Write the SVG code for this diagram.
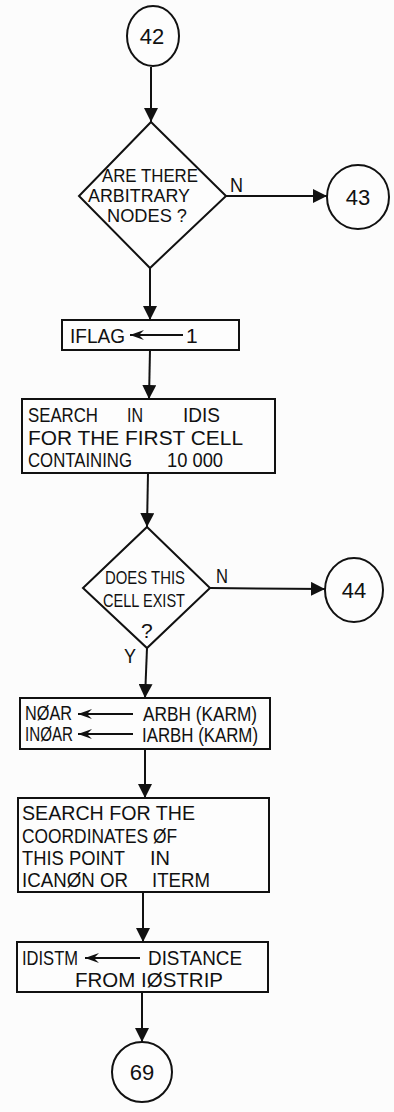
<svg xmlns="http://www.w3.org/2000/svg" width="394" height="1112" viewBox="0 0 394 1112">
<defs>
<style>
.s{fill:none;stroke:#111;stroke-width:2}
.n{fill:#fdfdfd;stroke:#111;stroke-width:2}
.t{font-family:"Liberation Sans",Arial,sans-serif;font-size:21px;fill:#111}
.d{font-family:"Liberation Sans",Arial,sans-serif;font-size:17.5px;fill:#111}
.c{font-family:"Liberation Sans",Arial,sans-serif;font-size:22px;fill:#111;text-anchor:middle}
.a{fill:none;stroke:#111;stroke-width:2}
</style>
<marker id="ah" viewBox="0 0 14 14" refX="14" refY="7" markerWidth="14" markerHeight="14" markerUnits="userSpaceOnUse" orient="auto">
<path d="M0,0 L14,7 L0,14 Z" fill="#111"/>
</marker>
<marker id="ia" viewBox="0 0 14 10" refX="14" refY="5" markerWidth="14" markerHeight="10" markerUnits="userSpaceOnUse" orient="auto">
<path d="M14,5 L0,0 L5,5 L0,10 Z" fill="#111"/>
</marker>
</defs>
<rect x="0" y="0" width="394" height="1112" fill="#fcfcfc"/>
<g id="connectors">
<line class="a" x1="151" y1="67" x2="151" y2="122" marker-end="url(#ah)"/>
<line class="a" x1="150" y1="268" x2="150" y2="320" marker-end="url(#ah)"/>
<line class="a" x1="150" y1="350" x2="149" y2="399" marker-end="url(#ah)"/>
<line class="a" x1="148" y1="473" x2="147" y2="527" marker-end="url(#ah)"/>
<line class="a" x1="226" y1="196" x2="327" y2="196" marker-end="url(#ah)"/>
<line class="a" x1="210" y1="588" x2="325" y2="589" marker-end="url(#ah)"/>
<line class="a" x1="147" y1="648" x2="145" y2="698" marker-end="url(#ah)"/>
<line class="a" x1="145" y1="749" x2="145" y2="798" marker-end="url(#ah)"/>
<line class="a" x1="143" y1="892" x2="143" y2="942" marker-end="url(#ah)"/>
<line class="a" x1="142" y1="992" x2="142" y2="1042" marker-end="url(#ah)"/>
<text class="t" x="230" y="192" textLength="13" lengthAdjust="spacingAndGlyphs">N</text>
<text class="t" x="216" y="583" textLength="12" lengthAdjust="spacingAndGlyphs">N</text>
<text class="t" x="124" y="663" textLength="12" lengthAdjust="spacingAndGlyphs">Y</text>
</g>
<g id="n42">
<ellipse class="n" cx="153" cy="36" rx="26" ry="30"/>
<text class="c" x="152" y="44">42</text>
</g>
<g id="d1">
<polygon class="n" points="151,122 226,196 150,268 79,196"/>
<text class="d" x="102" y="182" textLength="96" lengthAdjust="spacingAndGlyphs">ARE THERE</text>
<text class="d" x="88" y="202" textLength="102" lengthAdjust="spacingAndGlyphs">ARBITRARY</text>
<text class="d" x="107" y="222" textLength="80" lengthAdjust="spacingAndGlyphs">NODES ?</text>
</g>
<g id="n43">
<ellipse class="n" cx="358" cy="197" rx="31" ry="32"/>
<text class="c" x="358" y="205">43</text>
</g>
<g id="b1">
<rect class="n" x="62" y="320" width="177" height="30"/>
<text class="t" x="70" y="343" textLength="55" lengthAdjust="spacingAndGlyphs">IFLAG</text>
<line class="a" x1="183" y1="335" x2="130" y2="335" marker-end="url(#ia)"/>
<text class="t" x="186" y="343">1</text>
</g>
<g id="b2">
<rect class="n" x="22" y="399" width="253" height="74"/>
<text class="t" x="28" y="422" textLength="70" lengthAdjust="spacingAndGlyphs">SEARCH</text>
<text class="t" x="127" y="422" textLength="16" lengthAdjust="spacingAndGlyphs">IN</text>
<text class="t" x="183" y="422" textLength="37" lengthAdjust="spacingAndGlyphs">IDIS</text>
<text class="t" x="28" y="445" textLength="215" lengthAdjust="spacingAndGlyphs">FOR THE FIRST CELL</text>
<text class="t" x="28" y="467" textLength="104" lengthAdjust="spacingAndGlyphs">CONTAINING</text>
<text class="t" x="167" y="467" textLength="56" lengthAdjust="spacingAndGlyphs">10 000</text>
</g>
<g id="d2">
<polygon class="n" points="147,527 210,588 147,648 83,588"/>
<text class="d" x="105" y="584" textLength="80" lengthAdjust="spacingAndGlyphs">DOES THIS</text>
<text class="d" x="103" y="607" textLength="82" lengthAdjust="spacingAndGlyphs">CELL EXIST</text>
<text class="t" x="141" y="638">?</text>
</g>
<g id="n44">
<ellipse class="n" cx="354" cy="590" rx="29" ry="32"/>
<text class="c" x="354" y="598">44</text>
</g>
<g id="b3">
<rect class="n" x="20" y="698" width="250" height="51"/>
<text class="t" x="25" y="720" textLength="47" lengthAdjust="spacingAndGlyphs">NØAR</text>
<line class="a" x1="133" y1="714" x2="78" y2="714" marker-end="url(#ia)"/>
<text class="t" x="143" y="721" textLength="114" lengthAdjust="spacingAndGlyphs">ARBH (KARM)</text>
<text class="t" x="25" y="741" textLength="48" lengthAdjust="spacingAndGlyphs">INØAR</text>
<line class="a" x1="133" y1="734" x2="78" y2="734" marker-end="url(#ia)"/>
<text class="t" x="142" y="742" textLength="116" lengthAdjust="spacingAndGlyphs">IARBH (KARM)</text>
</g>
<g id="b4">
<rect class="n" x="18" y="798" width="251" height="94"/>
<text class="t" x="22" y="820" textLength="173" lengthAdjust="spacingAndGlyphs">SEARCH  FOR THE</text>
<text class="t" x="22" y="843" textLength="155" lengthAdjust="spacingAndGlyphs">COORDINATES ØF</text>
<text class="t" x="22" y="865" textLength="103" lengthAdjust="spacingAndGlyphs">THIS POINT</text>
<text class="t" x="150" y="865" textLength="20" lengthAdjust="spacingAndGlyphs">IN</text>
<text class="t" x="22" y="887" textLength="106" lengthAdjust="spacingAndGlyphs">ICANØN OR</text>
<text class="t" x="152" y="887" textLength="58" lengthAdjust="spacingAndGlyphs">ITERM</text>
</g>
<g id="b5">
<rect class="n" x="17" y="942" width="251" height="50"/>
<text class="t" x="22" y="965" textLength="56" lengthAdjust="spacingAndGlyphs">IDISTM</text>
<line class="a" x1="140" y1="958" x2="85" y2="958" marker-end="url(#ia)"/>
<text class="t" x="148" y="965" textLength="94" lengthAdjust="spacingAndGlyphs">DISTANCE</text>
<text class="t" x="75" y="987" textLength="148" lengthAdjust="spacingAndGlyphs">FROM IØSTRIP</text>
</g>
<g id="n69">
<ellipse class="n" cx="142" cy="1072" rx="30" ry="30"/>
<text class="c" x="142" y="1080">69</text>
</g>
</svg>
